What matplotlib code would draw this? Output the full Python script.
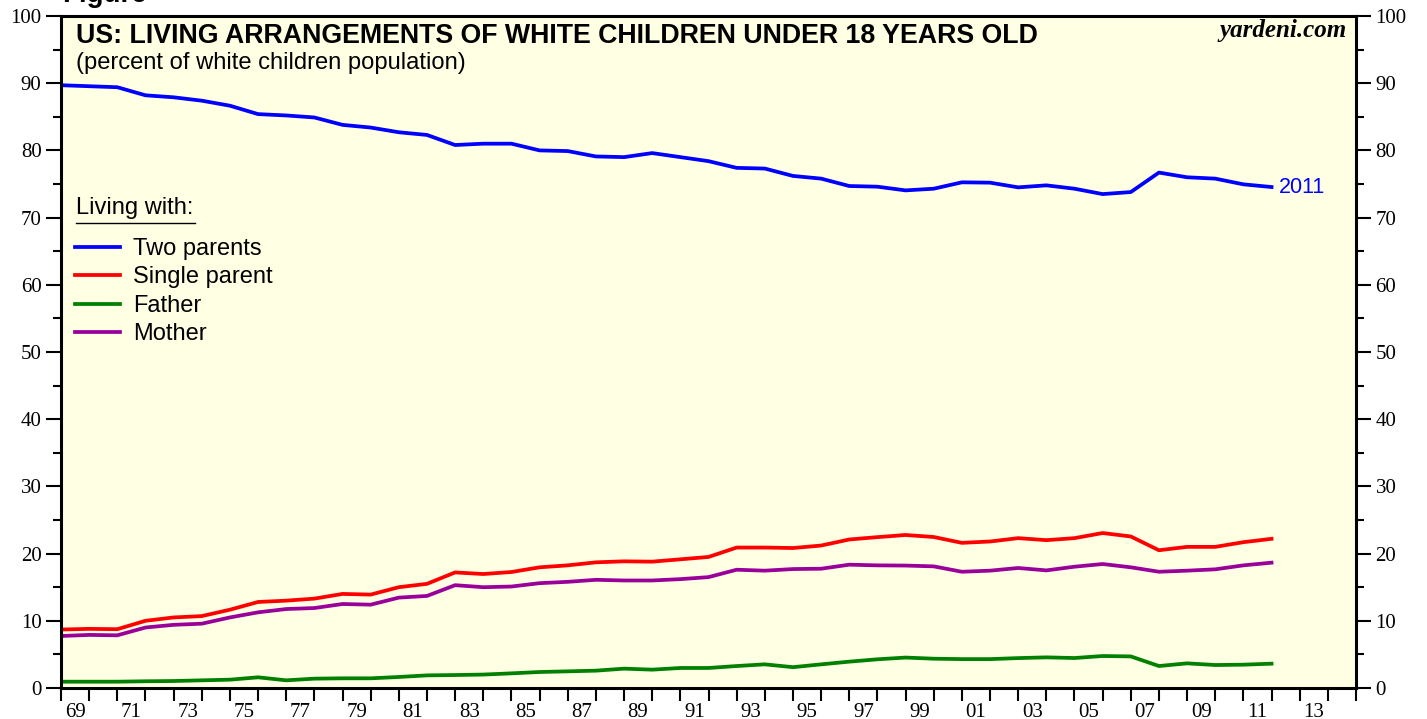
import numpy as np
import matplotlib
matplotlib.use("Agg")
import matplotlib.pyplot as plt
from matplotlib.lines import Line2D
from matplotlib.ticker import MultipleLocator, FixedLocator, FixedFormatter

# ---------------- data (percent of white children population) ----------------
years = list(range(1968, 2012))
two_parents = [89.7, 89.55, 89.4, 88.2, 87.9, 87.4, 86.65, 85.4, 85.2, 84.9,
               83.8, 83.4, 82.7, 82.3, 80.8, 81.0, 81.0, 80.0, 79.9, 79.1,
               79.0, 79.6, 79.0, 78.4, 77.4, 77.3, 76.2, 75.8, 74.7, 74.6,
               74.05, 74.3, 75.25, 75.2, 74.5, 74.8, 74.3, 73.5, 73.8, 76.7,
               76.0, 75.8, 74.95, 74.55]
single_parent = [8.7, 8.8, 8.75, 10.0, 10.5, 10.7, 11.65, 12.8, 13.0, 13.3,
                 14.0, 13.9, 15.0, 15.5, 17.2, 16.96, 17.26, 17.96, 18.25, 18.7,
                 18.85, 18.8, 19.15, 19.5, 20.9, 20.9, 20.83, 21.2, 22.1, 22.45,
                 22.77, 22.47, 21.6, 21.8, 22.3, 22.0, 22.3, 23.06, 22.55, 20.5,
                 21.0, 21.0, 21.7, 22.2]
father = [0.94, 0.94, 0.94, 1.0, 1.04, 1.14, 1.24, 1.59, 1.14, 1.39,
          1.44, 1.44, 1.64, 1.88, 1.93, 2.0, 2.18, 2.38, 2.48, 2.58,
          2.88, 2.73, 2.98, 2.98, 3.27, 3.52, 3.1, 3.52, 3.92, 4.27,
          4.53, 4.36, 4.3, 4.3, 4.45, 4.56, 4.46, 4.76, 4.7, 3.27,
          3.67, 3.42, 3.47, 3.62]
mother = [7.74, 7.9, 7.84, 9.0, 9.4, 9.57, 10.5, 11.26, 11.75, 11.9,
          12.5, 12.4, 13.45, 13.7, 15.3, 15.0, 15.1, 15.6, 15.8, 16.1,
          16.0, 16.0, 16.2, 16.5, 17.6, 17.46, 17.7, 17.75, 18.35, 18.25,
          18.22, 18.1, 17.3, 17.46, 17.86, 17.5, 18.05, 18.45, 17.96, 17.3,
          17.46, 17.66, 18.25, 18.65]

series_names = ["Two parents", "Single parent", "Father", "Mother"]
series_colors = ["#0000FF", "#FF0000", "#008000", "#990099"]
x_label_years = list(range(1969, 2014, 2))
x_labels = ["%02d" % (y % 100) for y in x_label_years]
y_ticks = list(range(0, 101, 10))
last_label = "2011"

# ---------------- figure ----------------
W, H = 1427, 719
fig = plt.figure(figsize=(W / 100, H / 100), dpi=100)
L, R, T, B = 61, 1356, 16, 688
ax = fig.add_axes([L / W, 1 - B / H, (R - L) / W, (B - T) / H])
ax.set_facecolor("#FFFFE4")

# yearly values plotted at year end
xpos = np.array(years) + 1.0
for vals, c in zip([two_parents, single_parent, father, mother], series_colors):
    ax.plot(xpos, vals, color=c, lw=2.7, solid_joinstyle="round")

ax.set_xlim(1969, 2015)
ax.set_ylim(0, 100)

for s in ax.spines.values():
    s.set_linewidth(2.2)
    s.set_color("black")

serif = "Liberation Serif"
sans = "Liberation Sans"

# y axis ticks both sides
ax.yaxis.set_major_locator(FixedLocator(y_ticks))
ax.yaxis.set_minor_locator(MultipleLocator(5))
ax.tick_params(axis="y", which="major", direction="out", length=11, width=1.5,
               left=True, right=True, labelleft=True, labelright=True,
               labelsize=15, pad=3)
ax.tick_params(axis="y", which="minor", direction="out", length=5.5, width=1.5,
               left=True, right=True)
for lab in ax.get_yticklabels():
    lab.set_fontfamily(serif)

# x axis: tick marks every year, labels centred in the year interval
ax.xaxis.set_major_locator(MultipleLocator(1))
ax.xaxis.set_major_formatter(FixedFormatter([]))
ax.tick_params(axis="x", which="major", direction="out", length=9.5, width=1.5,
               labelbottom=False)
ax.xaxis.set_minor_locator(FixedLocator([y + 0.5 for y in x_label_years]))
ax.xaxis.set_minor_formatter(FixedFormatter(x_labels))
ax.tick_params(axis="x", which="minor", length=0, labelsize=15, pad=10.5)
for lab in ax.get_xticklabels(minor=True):
    lab.set_fontfamily(serif)

# titles
fig.text(62 / W, 1 - 2.5 / H, "Figure", fontsize=20, fontweight="bold",
         family=sans, va="baseline", ha="left")
fig.text(76 / W, 1 - 23 / H, "US: LIVING ARRANGEMENTS OF WHITE CHILDREN UNDER 18 YEARS OLD",
         fontsize=19.3, fontweight="bold", family=sans, va="top", ha="left")
fig.text(76 / W, 1 - 52 / H, "(percent of white children population)",
         fontsize=17.1, family=sans, va="top", ha="left")
fig.text(1347 / W, 1 - 19 / H, "yardeni.com", fontsize=18, fontweight="bold",
         fontstyle="italic", family=serif, va="top", ha="right")

# legend
handles = [Line2D([], [], color=c, lw=2.7) for c in series_colors]
leg = ax.legend(handles, series_names, loc="upper left",
                bbox_to_anchor=((76 - L - 8) / (R - L), (B - 231) / (B - T)),
                frameon=False, handlelength=1.9, handletextpad=0.55,
                labelspacing=0.27, borderaxespad=0, borderpad=0.3,
                prop={"family": sans, "size": 17})
fig.text(76 / W, 1 - 197 / H, "Living with:", fontsize=17, family=sans,
         va="top", ha="left")
fig.add_artist(Line2D([76 / W, 195 / W], [1 - 223 / H, 1 - 223 / H],
                      color="black", lw=1.0, transform=fig.transFigure))

# end label
ax.annotate(last_label, (xpos[-1], two_parents[-1]), xytext=(5, 0),
            textcoords="offset points", color="#0000FF", fontsize=15.5,
            family=sans, va="center", ha="left")

fig.savefig("out.png", dpi=100)
